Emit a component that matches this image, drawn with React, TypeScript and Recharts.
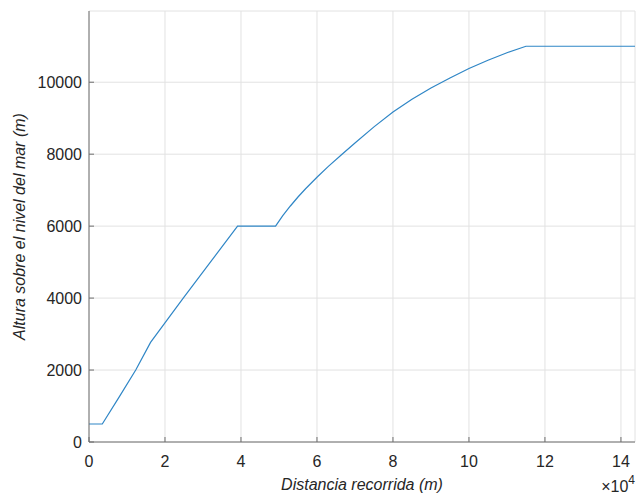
import { LineChart, Line, XAxis, YAxis, CartesianGrid, Label } from 'recharts';

// distance travelled (m) and altitude above sea level (m)
const distance = [
  0, 3500, 8000, 12300, 16200, 24800, 39100, 49100, 51000, 53000, 55000,
  57000, 60000, 63000, 66600, 70000, 75000, 80000, 85000, 90000, 95000,
  100000, 105000, 110000, 115000, 143700,
];
const altitude = [
  500, 500, 1260, 2000, 2770, 4000, 6000, 6000, 6290, 6560, 6810, 7040, 7360,
  7660, 8000, 8310, 8760, 9170, 9530, 9840, 10120, 10380, 10610, 10820, 11000,
  11000,
];

const xTicks = [0, 20000, 40000, 60000, 80000, 100000, 120000, 140000];
const yTicks = [0, 2000, 4000, 6000, 8000, 10000];

const data = distance.map((d, i) => ({ d, h: altitude[i] }));

const FONT = '"Liberation Sans", Arial, Helvetica, sans-serif';
const TEXT = '#262626';
const AXIS = '#6e6e6e';
const GRID = '#e2e2e2';
const LINE = '#2f86c6';
const TICK = 5;

const BottomTick = (props: any) => {
  const { x, y, payload } = props;
  return (
    <g>
      <line x1={x} y1={y} x2={x} y2={y - TICK} stroke={AXIS} />
      <text x={x} y={y + 25} textAnchor='middle' fontSize={16} fill={TEXT} fontFamily={FONT}>
        {payload.value / 10000}
      </text>
    </g>
  );
};

const TopTick = (props: any) => {
  const { x, y } = props;
  return <line x1={x} y1={y} x2={x} y2={y + TICK} stroke={AXIS} />;
};

const LeftTick = (props: any) => {
  const { x, y, payload } = props;
  return (
    <g>
      <line x1={x} y1={y} x2={x + TICK} y2={y} stroke={AXIS} />
      <text x={x - 7} y={y + 6} textAnchor='end' fontSize={16} fill={TEXT} fontFamily={FONT}>
        {payload.value}
      </text>
    </g>
  );
};

const RightTick = (props: any) => {
  const { x, y } = props;
  return <line x1={x} y1={y} x2={x - TICK} y2={y} stroke={AXIS} />;
};

const XTitle = (props: any) => {
  const { x, y, width } = props.viewBox;
  return (
    <g fontFamily={FONT} fill={TEXT}>
      <text x={x + width / 2} y={y + 48} textAnchor='middle' fontSize={16} fontStyle='italic'>
        Distancia recorrida (m)
      </text>
      <text x={x + width} y={y + 50} textAnchor='end' fontSize={16}>
        ×10<tspan fontSize={12} dy={-8}>4</tspan>
      </text>
    </g>
  );
};

const YTitle = (props: any) => {
  const { y, height } = props.viewBox;
  const cy = y + height / 2;
  return (
    <text
      x={25}
      y={cy}
      transform={`rotate(-90, 25, ${cy})`}
      textAnchor='middle'
      fontSize={16}
      fontStyle='italic'
      fill={TEXT}
      fontFamily={FONT}
    >
      Altura sobre el nivel del mar (m)
    </text>
  );
};

export default function App() {
  return (
    <div style={{ position: 'absolute', left: 0, top: 0, background: '#fff' }}>
      <LineChart
        width={637}
        height={499}
        data={data}
        margin={{ top: 11, right: 2, bottom: 0, left: 0 }}
      >
        <CartesianGrid stroke={GRID} />
        <XAxis
          dataKey='d'
          type='number'
          domain={[0, 143700]}
          ticks={xTicks}
          allowDataOverflow
          height={57}
          tickSize={0}
          tickMargin={0}
          tickLine={false}
          axisLine={{ stroke: AXIS }}
          tick={BottomTick}
          interval={0}
        >
          <Label content={XTitle} />
        </XAxis>
        <XAxis
          xAxisId='top'
          orientation='top'
          dataKey='d'
          type='number'
          domain={[0, 143700]}
          ticks={xTicks}
          allowDataOverflow
          height={0}
          tickSize={0}
          tickMargin={0}
          tickLine={false}
          axisLine={{ stroke: AXIS }}
          tick={TopTick}
          interval={0}
        />
        <YAxis
          dataKey='h'
          type='number'
          domain={[0, 11980]}
          ticks={yTicks}
          allowDataOverflow
          width={89}
          tickSize={0}
          tickMargin={0}
          tickLine={false}
          axisLine={{ stroke: AXIS }}
          tick={LeftTick}
          interval={0}
        >
          <Label content={YTitle} />
        </YAxis>
        <YAxis
          yAxisId='right'
          orientation='right'
          dataKey='h'
          type='number'
          domain={[0, 11980]}
          ticks={yTicks}
          allowDataOverflow
          width={0}
          tickSize={0}
          tickMargin={0}
          tickLine={false}
          axisLine={{ stroke: AXIS }}
          tick={RightTick}
          interval={0}
        />
        <Line
          dataKey='h'
          type='linear'
          stroke={LINE}
          strokeWidth={1.2}
          dot={false}
          isAnimationActive={false}
        />
        <Line
          xAxisId='top'
          yAxisId='right'
          dataKey='h'
          type='linear'
          stroke='none'
          dot={false}
          legendType='none'
          isAnimationActive={false}
        />
      </LineChart>
    </div>
  );
}
